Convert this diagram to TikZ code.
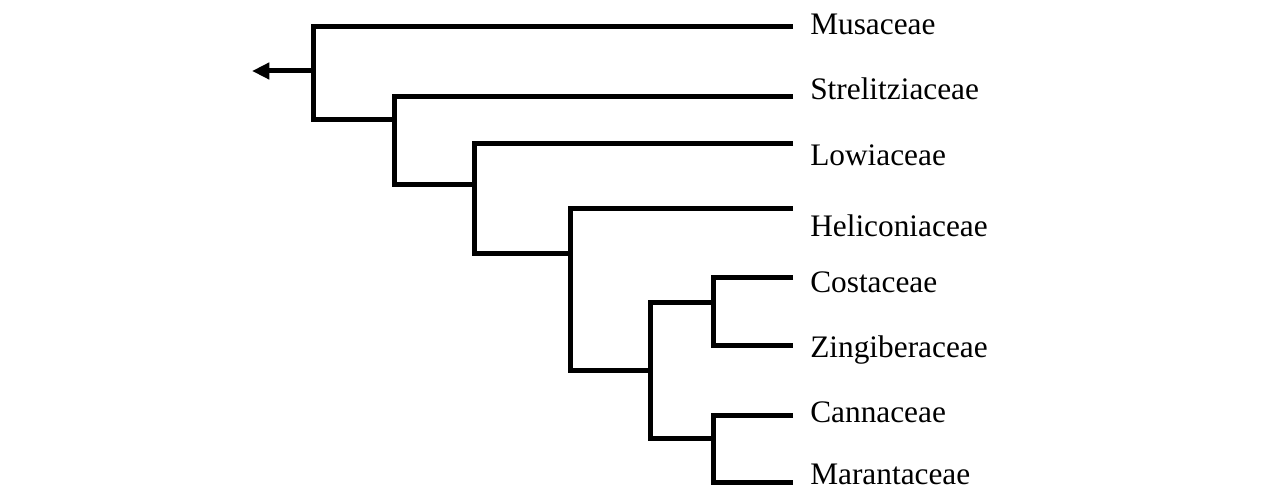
\documentclass[tikz,border=0pt]{standalone}
\usepackage{fontspec}
\setmainfont{Liberation Serif}
\usetikzlibrary{arrows.meta}
\begin{document}
\begin{tikzpicture}[x=0.75pt,y=-0.75pt,
  branch/.style={line width=3.75pt,line join=miter},
  taxon/.style={anchor=base west,inner sep=0pt,font=\fontsize{23.5}{28}\selectfont}]
\useasboundingbox (0,0) rectangle (1261,491);
% the families
\node[taxon] (mus) at (810,35) {Musaceae};
\node[taxon] (str) at (810,100) {Strelitziaceae};
\node[taxon] (low) at (810,166) {Lowiaceae};
\node[taxon] (hel) at (810,237) {Heliconiaceae};
\node[taxon] (cos) at (810,293) {Costaceae};
\node[taxon] (zin) at (810,358) {Zingiberaceae};
\node[taxon] (can) at (810,423) {Cannaceae};
\node[taxon] (mar) at (810,485) {Marantaceae};
% the tips of the branches
\coordinate (tMus) at (793,27);
\coordinate (tStr) at (793,97);
\coordinate (tLow) at (793,144);
\coordinate (tHel) at (793,209);
\coordinate (tCos) at (793,278);
\coordinate (tZin) at (793,346);
\coordinate (tCan) at (793,416);
\coordinate (tMar) at (793,483);
% the clades
\coordinate (c1) at (313,71);
\coordinate (c2) at (394,120);
\coordinate (c3) at (474,185);
\coordinate (c4) at (570,254);
\coordinate (c5) at (650,371);
\coordinate (c6) at (713,303);
\coordinate (c7) at (713,439);
\coordinate (root) at (252,71);
\draw[branch] (tCos) -| (c6) |- (tZin);
\draw[branch] (tCan) -| (c7) |- (tMar);
\draw[branch] (c6) -| (c5) |- (c7);
\draw[branch] (tHel) -| (c4) |- (c5);
\draw[branch] (tLow) -| (c3) |- (c4);
\draw[branch] (tStr) -| (c2) |- (c3);
\draw[branch] (tMus) -| (c1) |- (c2);
\draw[line width=3.75pt,-{Triangle[length=13pt,width=12pt]}] (c1) -- (root); % the outgroup
\end{tikzpicture}
\end{document}
